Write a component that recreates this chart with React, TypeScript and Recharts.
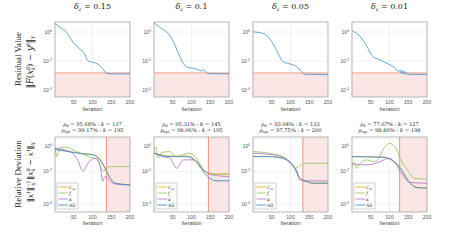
import { ComposedChart, Line, XAxis, YAxis, CartesianGrid, ReferenceArea, ReferenceLine } from 'recharts'

// layout
const PANEL_LEFT = [55, 154, 253, 352]
const PANEL_W = 75
const PANEL_H = 75
const TOP_ROW_Y = 22
const BOT_ROW_Y = 137
const AXIS_W = 22
const AXIS_H = 16
const PAD_R = 8

const ITER_TICKS = [50, 100, 150, 200]
const DELTAS = ['0.15', '0.1', '0.05', '0.01']

// residual value (log10)
const resIter015 = [0, 14, 33, 47, 64, 78, 88, 96, 113, 126, 138, 150, 200]
const resLog015 = [0.6, 0.32, -0.09, -0.67, -1.12, -1.47, -2.0, -2.07, -2.2, -2.5, -2.85, -2.9, -2.9]
const resIter01 = [0, 20, 38, 52, 65, 78, 90, 104, 118, 128, 133, 137, 145, 200]
const resLog01 = [0.64, 0.25, -0.09, -0.67, -1.47, -2.16, -2.46, -2.5, -2.62, -2.7, -2.6, -2.72, -2.88, -2.9]
const resIter005 = [0, 27, 40, 53, 67, 80, 98, 116, 129, 138, 200]
const resLog005 = [0.02, -0.09, -0.32, -0.78, -1.47, -2.05, -2.2, -2.39, -2.74, -2.92, -2.95]
const resIter001 = [0, 18, 35, 56, 71, 93, 115, 124, 128, 131, 134, 137, 140, 143, 147, 152, 200]
const resLog001 = [0.09, -0.21, -0.78, -1.7, -1.88, -2.16, -2.5, -2.74, -2.62, -2.85, -2.65, -2.9, -2.7, -2.95, -2.82, -2.93, -2.93]
const RES_THRESHOLD_LOG = -2.83

// relative deviation, one block per delta
const k1 = 137
const allIter1 = [0, 76, 102, 120, 133, 147, 160, 200]
const allLog1 = [-0.64, -0.92, -0.98, -1.29, -1.8, -2.42, -2.73, -2.83]
const catLog1 = [-0.6, -0.9, -0.96, -1.25, -1.75, -2.4, -2.72, -2.82]
const fIter1 = [0, 5, 12, 30, 58, 91, 113, 120, 129, 138, 150, 200]
const fLog1 = [-0.51, -1.09, -0.55, -0.51, -0.78, -1.09, -1.29, -1.6, -2.01, -1.76, -1.7, -1.7]
const kapIter1 = [0, 40, 58, 75, 91, 109, 120, 127, 133, 147, 160, 200]
const kapLog1 = [-0.58, -0.78, -1.19, -1.97, -1.4, -1.19, -1.6, -2.62, -2.32, -2.62, -2.77, -2.83]

const k2 = 145
const allIter2 = [0, 43, 87, 113, 135, 149, 167, 200]
const allLog2 = [-0.88, -1.09, -1.09, -1.4, -2.11, -2.42, -2.58, -2.58]
const catLog2 = [-0.85, -1.05, -1.05, -1.35, -1.95, -2.12, -2.15, -2.15]
const fIter2 = [0, 5, 11, 20, 43, 57, 92, 110, 124, 137, 155, 200]
const fLog2 = [-0.78, -0.47, -1.19, -0.84, -0.78, -1.09, -0.88, -1.09, -1.6, -2.01, -2.17, -2.17]
const kapIter2 = [0, 24, 43, 60, 78, 104, 131, 155, 200]
const kapLog2 = [-0.88, -1.09, -1.19, -1.8, -1.29, -1.29, -1.91, -2.21, -2.32]

const k3 = 133
const allIter3 = [0, 43, 78, 96, 114, 125, 142, 160, 200]
const allLog3 = [-1.09, -1.09, -1.19, -1.4, -1.9, -2.42, -2.62, -2.73, -2.73]
const catLog3 = [-1.07, -1.07, -1.17, -1.38, -1.88, -2.4, -2.6, -2.71, -2.71]
const fIter3 = [0, 43, 78, 96, 114, 128, 135, 200]
const fLog3 = [-0.78, -0.88, -1.09, -1.4, -1.8, -1.6, -1.5, -1.5]
const kapIter3 = [0, 43, 78, 96, 114, 125, 135, 200]
const kapLog3 = [-0.88, -0.95, -1.09, -1.35, -1.91, -2.52, -2.58, -2.58]

const k4 = 127
const allIter4 = [0, 83, 105, 129, 151, 173, 200]
const allLog4 = [-1.09, -1.13, -1.29, -1.8, -2.62, -3.0, -3.03]
const catLog4 = [-1.08, -1.12, -1.28, -1.79, -2.6, -2.98, -3.01]
const fIter4 = [0, 5, 12, 21, 39, 57, 71, 85, 101, 117, 130, 148, 166, 200]
const fLog4 = [-1.8, -1.4, -1.8, -1.5, -1.29, -1.4, -1.19, -0.57, -0.27, -0.57, -1.29, -1.91, -2.42, -2.48]
const kapIter4 = [0, 39, 75, 98, 116, 134, 156, 200]
const kapLog4 = [-1.54, -1.6, -1.4, -1.19, -1.5, -2.21, -2.68, -2.73]

const RHO_D = ['95.68%', '95.31%', '93.04%', '77.67%']
const RHO_OPT = ['99.17%', '98.06%', '97.75%', '98.89%']
const K_D = [k1, k2, k3, k4]
const K_OPT = [195, 195, 200, 198]

const BLUE = '#3a8fd2'
const YELLOW = '#edb120'
const GREEN = '#9cc867'
const PURPLE = '#b77ec8'
const RED = '#ef8a6a'
const PINK = '#f9dcdc'

const pts = (iters: number[], logs: number[]) => iters.map((it, i) => ({ it, v: Math.pow(10, logs[i]) }))

const topSeries = [
  pts(resIter015, resLog015),
  pts(resIter01, resLog01),
  pts(resIter005, resLog005),
  pts(resIter001, resLog001),
]

const bottomSeries = [
  { cat: pts(allIter1, catLog1), f: pts(fIter1, fLog1), kap: pts(kapIter1, kapLog1), all: pts(allIter1, allLog1) },
  { cat: pts(allIter2, catLog2), f: pts(fIter2, fLog2), kap: pts(kapIter2, kapLog2), all: pts(allIter2, allLog2) },
  { cat: pts(allIter3, catLog3), f: pts(fIter3, fLog3), kap: pts(kapIter3, kapLog3), all: pts(allIter3, allLog3) },
  { cat: pts(allIter4, catLog4), f: pts(fIter4, fLog4), kap: pts(kapIter4, kapLog4), all: pts(allIter4, allLog4) },
]

const LogTick = (props: any) => {
  const { x, y, payload } = props
  const e = Math.round(Math.log10(payload.value))
  return (
    <text x={x} y={y + 2} textAnchor="end" fontSize={5} fill="#555" fontFamily="Liberation Sans">
      10<tspan dy={-2.2} fontSize={3.6}>{e}</tspan>
    </text>
  )
}

const TOP_LO = Math.pow(10, -4.5)
const TOP_HI = Math.pow(10, 0.7)
const BOT_LO = Math.pow(10, -4.5)
const BOT_HI = Math.pow(10, 0.12)
const Y_TICKS = [1e-4, 1e-3, 1e-2, 1e-1, 1]
const Y_LABELS = [1e-4, 1e-2, 1]

function Frame({ left, top, lo, hi, children }: any) {
  return (
    <div style={{ position: 'absolute', left: left - AXIS_W, top }}>
      <ComposedChart width={AXIS_W + PANEL_W + PAD_R} height={PANEL_H + AXIS_H} margin={{ top: 0, right: PAD_R, bottom: 0, left: 0 }}>
        <CartesianGrid stroke="#e4e4e4" strokeWidth={0.5} horizontalValues={Y_TICKS} />
        <XAxis
          dataKey="it"
          type="number"
          domain={[0, 200]}
          ticks={ITER_TICKS}
          allowDataOverflow
          height={AXIS_H}
          tickSize={0}
          tickMargin={3}
          axisLine={false}
          tick={{ fontSize: 5, fill: '#555', fontFamily: 'Liberation Sans' }}
        />
        <YAxis
          dataKey="v"
          type="number"
          scale="log"
          domain={[lo, hi]}
          ticks={Y_LABELS}
          allowDataOverflow
          width={AXIS_W}
          tickSize={0}
          tickMargin={3}
          axisLine={false}
          tick={<LogTick />}
        />
        {children}
      </ComposedChart>
    </div>
  )
}

export default function App() {
  return (
    <div style={{ position: 'absolute', left: 0, top: 0, width: 458, height: 241, background: '#fff', overflow: 'hidden' }}>
      {topSeries.map((data, i) => (
        <Frame key={'t' + i} left={PANEL_LEFT[i]} top={TOP_ROW_Y} lo={TOP_LO} hi={TOP_HI}>
          <ReferenceArea x1={0} x2={200} y1={TOP_LO} y2={Math.pow(10, RES_THRESHOLD_LOG)} fill={PINK} fillOpacity={0.7} stroke="none" ifOverflow="hidden" />
          <ReferenceLine y={Math.pow(10, RES_THRESHOLD_LOG)} stroke={RED} strokeWidth={0.8} />
          <Line data={data} dataKey="v" type="monotone" stroke={BLUE} strokeWidth={0.8} dot={false} isAnimationActive={false} />
        </Frame>
      ))}
      {bottomSeries.map((s, i) => (
        <Frame key={'b' + i} left={PANEL_LEFT[i]} top={BOT_ROW_Y} lo={BOT_LO} hi={BOT_HI}>
          <ReferenceArea x1={K_D[i]} x2={200} fill={PINK} fillOpacity={0.7} stroke="none" ifOverflow="hidden" />
          <ReferenceLine x={K_D[i]} stroke={RED} strokeWidth={0.9} />
          <Line data={s.cat} dataKey="v" type="monotone" stroke={YELLOW} strokeWidth={0.9} dot={false} isAnimationActive={false} />
          <Line data={s.f} dataKey="v" type="monotone" stroke={GREEN} strokeWidth={0.9} dot={false} isAnimationActive={false} />
          <Line data={s.kap} dataKey="v" type="monotone" stroke={PURPLE} strokeWidth={0.9} dot={false} isAnimationActive={false} />
          <Line data={s.all} dataKey="v" type="monotone" stroke={BLUE} strokeWidth={0.9} dot={false} isAnimationActive={false} />
        </Frame>
      ))}
      <svg width={458} height={241} style={{ position: 'absolute', left: 0, top: 0, pointerEvents: 'none' }}>
        {PANEL_LEFT.map((x, i) => (
          <g key={'o' + i}>
            <rect x={x} y={TOP_ROW_Y} width={PANEL_W} height={PANEL_H} fill="none" stroke="#9a9a9a" strokeWidth={0.7} />
            <rect x={x} y={BOT_ROW_Y} width={PANEL_W} height={PANEL_H} fill="none" stroke="#9a9a9a" strokeWidth={0.7} />
            <text x={x + PANEL_W / 2} y={9} textAnchor="middle" fontSize={8} fontFamily="DejaVu Serif" fill="#222">
              <tspan fontStyle="italic">δ</tspan>
              <tspan fontStyle="italic" fontSize={5} dy={1.5}>z</tspan>
              <tspan dy={-1.5}>{' =  ' + DELTAS[i]}</tspan>
            </text>
            <text x={x + PANEL_W / 2} y={111} textAnchor="middle" fontSize={5.5} fontFamily="Liberation Sans" fill="#444">Iteration</text>
            <text x={x + PANEL_W / 2} y={225} textAnchor="middle" fontSize={5.5} fontFamily="Liberation Sans" fill="#444">Iteration</text>
            <text x={x + PANEL_W / 2} y={126} textAnchor="middle" fontSize={5.2} fontFamily="DejaVu Serif" fill="#222">
              <tspan fontStyle="italic">ρ</tspan>
              <tspan fontSize={3.6} dy={1}>d</tspan>
              <tspan dy={-1}>{' =  ' + RHO_D[i] + '  :  '}</tspan>
              <tspan fontStyle="italic">k</tspan>
              <tspan>{' =  ' + K_D[i]}</tspan>
            </text>
            <text x={x + PANEL_W / 2} y={132} textAnchor="middle" fontSize={5.2} fontFamily="DejaVu Serif" fill="#222">
              <tspan fontStyle="italic">ρ</tspan>
              <tspan fontSize={3.6} dy={1}>opt</tspan>
              <tspan dy={-1}>{' =  ' + RHO_OPT[i] + '  :  '}</tspan>
              <tspan fontStyle="italic">k</tspan>
              <tspan>{' =  ' + K_OPT[i]}</tspan>
            </text>
            <rect x={x + 2} y={BOT_ROW_Y + 46} width={21} height={26} fill="#fff" stroke="#a0a0a0" strokeWidth={0.5} />
            {[YELLOW, GREEN, PURPLE, BLUE].map((c, j) => (
              <line key={j} x1={x + 3.5} x2={x + 13} y1={BOT_ROW_Y + 50 + j * 6} y2={BOT_ROW_Y + 50 + j * 6} stroke={c} strokeWidth={0.9} />
            ))}
            <text x={x + 14} y={BOT_ROW_Y + 51.5} fontSize={4.5} fontFamily="DejaVu Serif" fill="#333">C<tspan fontSize={3} dy={1}>at</tspan></text>
            <text x={x + 14} y={BOT_ROW_Y + 57.5} fontSize={4.5} fontFamily="DejaVu Serif" fontStyle="italic" fill="#333">f</text>
            <text x={x + 14} y={BOT_ROW_Y + 63.5} fontSize={4.5} fontFamily="DejaVu Serif" fontStyle="italic" fill="#333">κ</text>
            <text x={x + 14} y={BOT_ROW_Y + 69.5} fontSize={4.5} fontFamily="DejaVu Serif" fill="#333">All</text>
          </g>
        ))}
        <text transform="rotate(-90)" x={-59} y={21} textAnchor="middle" fontSize={9} fontFamily="Liberation Serif" fill="#222">Residual Value</text>
        <text transform="rotate(-90)" x={-62} y={33} textAnchor="middle" fontSize={8.5} fontFamily="DejaVu Serif" fill="#222">
          ‖<tspan fontStyle="italic">F</tspan>(<tspan fontStyle="italic">x</tspan>
          <tspan fontSize={5} dy={-3} fontStyle="italic">δ</tspan>
          <tspan fontSize={5} dy={5} dx={-3} fontStyle="italic">k</tspan>
          <tspan dy={-2}>) − </tspan>
          <tspan fontStyle="italic">y</tspan>
          <tspan fontSize={5} dy={-3} fontStyle="italic">δ</tspan>
          <tspan dy={3}>‖</tspan>
          <tspan fontSize={5} dy={2} fontStyle="italic">Y</tspan>
        </text>
        <text transform="rotate(-90)" x={-174} y={21} textAnchor="middle" fontSize={9} fontFamily="Liberation Serif" fill="#222">Relative Deviation</text>
        <text transform="rotate(-90)" x={-172} y={33} textAnchor="middle" fontSize={8} fontFamily="DejaVu Serif" fill="#222">
          ‖<tspan fontStyle="italic">x</tspan>
          <tspan fontSize={5} dy={-3}>†</tspan>
          <tspan dy={3}>‖</tspan>
          <tspan fontSize={4.5} dy={-3}>−1</tspan>
          <tspan fontSize={4.5} dy={5} dx={-5} fontStyle="italic">X</tspan>
          <tspan dy={-2}> ‖</tspan>
          <tspan fontStyle="italic">x</tspan>
          <tspan fontSize={5} dy={-3} fontStyle="italic">δ</tspan>
          <tspan fontSize={5} dy={5} dx={-3} fontStyle="italic">k</tspan>
          <tspan dy={-2}> − </tspan>
          <tspan fontStyle="italic">x</tspan>
          <tspan fontSize={5} dy={-3}>†</tspan>
          <tspan dy={3}>‖</tspan>
          <tspan fontSize={5} dy={2} fontStyle="italic">X</tspan>
        </text>
      </svg>
    </div>
  )
}
